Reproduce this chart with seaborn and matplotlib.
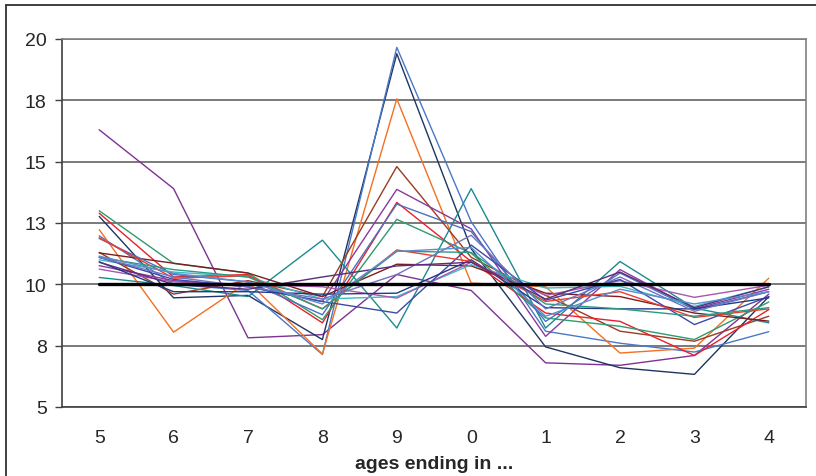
import matplotlib
matplotlib.use("Agg")
import matplotlib.pyplot as plt
from matplotlib.lines import Line2D
import seaborn as sns
import pandas as pd
import numpy as np

categories = ["5", "6", "7", "8", "9", "0", "1", "2", "3", "4"]

s01 = [16.3, 13.9, 7.82, 7.95, 10.4, 9.75, 6.8, 6.7, 7.1, 9.6]
s02 = [12.77, 9.45, 9.55, 7.75, 19.4, 11.45, 7.45, 6.6, 6.33, 9.5]
s03 = [11.98, 10.0, 9.75, 7.14, 19.66, 12.55, 8.09, 7.6, 7.24, 8.07]
s04 = [12.23, 8.05, 10.1, 7.16, 17.56, 10.05, 9.9, 7.2, 7.4, 10.25]
s05 = [11.3, 9.6, 10.15, 9.5, 14.8, 11.1, 9.55, 8.09, 7.68, 8.7]
s06 = [10.76, 10.15, 9.9, 9.3, 13.87, 12.26, 7.88, 10.6, 9.0, 9.8]
s07 = [12.9, 10.3, 10.4, 8.43, 13.34, 10.93, 8.83, 8.49, 7.1, 8.97]
s08 = [13.0, 10.85, 10.46, 8.56, 12.65, 11.27, 8.63, 8.29, 7.75, 9.28]
s09 = [10.28, 9.95, 9.5, 11.8, 8.22, 13.9, 8.22, 10.93, 9.03, 8.43]
s10 = [11.28, 10.86, 10.46, 9.5, 10.82, 10.75, 9.64, 9.5, 8.83, 8.5]
s11 = [11.87, 10.4, 10.1, 8.76, 13.27, 12.15, 8.49, 10.46, 8.97, 9.7]
s12 = [11.0, 10.5, 10.3, 9.4, 9.5, 10.8, 9.85, 9.92, 9.1, 9.9]
s13 = [10.62, 10.1, 10.0, 9.9, 9.44, 10.9, 9.55, 10.15, 9.47, 9.96]
s14 = [11.1, 10.2, 9.9, 9.3, 8.83, 11.6, 9.35, 10.2, 8.36, 9.5]
s15 = [10.92, 9.7, 9.7, 9.6, 9.64, 11.0, 9.05, 9.0, 9.0, 9.45]
s16 = [11.9, 10.25, 10.35, 9.0, 11.4, 10.93, 9.3, 9.7, 8.65, 9.0]
s17 = [11.1, 10.6, 10.3, 9.0, 11.35, 11.3, 9.2, 9.0, 8.7, 9.05]
s18 = [11.1, 10.3, 9.9, 9.4, 10.4, 12.0, 9.0, 10.3, 8.9, 9.7]
s19 = [10.9, 10.0, 9.8, 10.3, 10.75, 10.9, 9.4, 10.5, 9.05, 9.9]
s20 = [11.15, 10.45, 10.1, 9.2, 11.34, 11.5, 8.7, 9.8, 9.2, 9.7]
reference = [10, 10, 10, 10, 10, 10, 10, 10, 10, 10]

series = [s01, s02, s03, s04, s05, s06, s07, s08, s09, s10,
          s11, s12, s13, s14, s15, s16, s17, s18, s19, s20]
colors = ["#7E3294", "#1F3461", "#4A78C8", "#F37021", "#9A3B22",
          "#8A3A9E", "#E8212B", "#2F9B6E", "#1C8A8E", "#7A1E1E",
          "#4F6FBF", "#3CBCC4", "#A957B0", "#3B4BA8", "#233A8A",
          "#EE3B2E", "#2A9A7E", "#6F74C0", "#5A2D7A", "#5B8BD0"]

yticks = [5, 7.5, 10, 12.5, 15, 17.5, 20]
ytick_labels = ["5", "8", "10", "13", "15", "18", "20"]

rows = []
for i, s in enumerate(series):
    for j, v in enumerate(s):
        rows.append({"series": f"s{i+1:02d}", "pos": j, "value": v})
df = pd.DataFrame(rows)
ref_df = pd.DataFrame({"pos": range(len(categories)), "value": reference})

sns.set_style("white")
plt.rcParams["font.family"] = ["Liberation Sans", "DejaVu Sans"]

fig = plt.figure(figsize=(8.16, 4.77), dpi=100)
ax = fig.add_axes([62 / 816, 1 - 408 / 477, (806 - 62) / 816, (408 - 40) / 477])

for yt in yticks:
    ax.axhline(yt, color="#707070", lw=1.3, zorder=0)

sns.lineplot(data=df, x="pos", y="value", hue="series", palette=colors,
             linewidth=1.0, legend=False, ax=ax, sort=False, zorder=2)
sns.lineplot(data=ref_df, x="pos", y="value", color="black", linewidth=2.4,
             legend=False, ax=ax, zorder=3)

ax.set_xlim(-0.5, len(categories) - 0.5)
ax.set_ylim(5, 20)
ax.set_yticks(yticks)
ax.set_yticklabels(ytick_labels, fontsize=14)
ax.set_xticks(range(len(categories)))
ax.set_xticklabels(categories, fontsize=14)
ax.set_xticks(np.arange(-0.5, len(categories), 1.0), minor=True)
ax.tick_params(axis="x", which="major", length=0, pad=16)
ax.tick_params(axis="x", which="minor", length=5, width=1, color="#404040", direction="out")
ax.tick_params(axis="y", which="major", length=5, width=1, color="#404040", direction="out", pad=6, left=True)
ax.set_xlabel("ages ending in ...", fontsize=14, fontweight="bold", labelpad=6)
ax.set_ylabel("")

for side in ["left", "bottom"]:
    ax.spines[side].set_color("#404040")
    ax.spines[side].set_linewidth(1.2)
for side in ["top", "right"]:
    ax.spines[side].set_visible(True)
    ax.spines[side].set_color("#808080")
    ax.spines[side].set_linewidth(1.2)

fig.add_artist(Line2D([6 / 816, 6 / 816], [0, 1 - 6 / 477], color="#303030", lw=1.3, transform=fig.transFigure))
fig.add_artist(Line2D([6 / 816, 1], [1 - 6 / 477, 1 - 6 / 477], color="#303030", lw=1.3, transform=fig.transFigure))

fig.savefig("out.png", dpi=100)
